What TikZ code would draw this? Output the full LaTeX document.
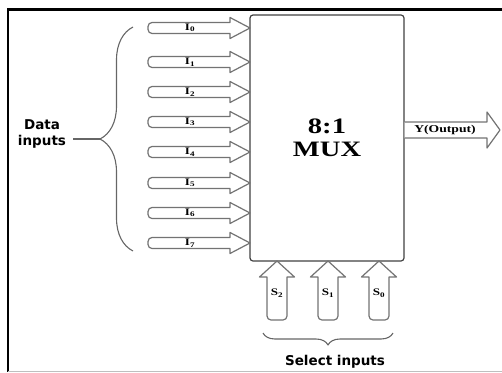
\documentclass[tikz,border=0pt]{standalone}
\usepackage{fontspec}
\setmainfont{Liberation Serif}[FakeStretch=1.3]
\newfontfamily\groupfont{DejaVu Sans}
\usetikzlibrary{decorations.pathreplacing,positioning}

\begin{document}
\begin{tikzpicture}[x=1pt, y=-1pt, line join=round,
    blockarrow/.style={draw=black!55, line width=1.2pt, fill=white},
    muxbox/.style={draw=black!75, line width=1.2pt, rounded corners=3pt,
      minimum width=154pt, minimum height=246pt, align=center,
      font=\fontsize{22}{25}\selectfont\bfseries},
    pinlabel/.style={inner sep=0pt, font=\fontsize{10}{11}\selectfont\bfseries},
    grouplabel/.style={align=center, inner sep=1pt,
      font=\groupfont\fontsize{13.5}{16}\selectfont\bfseries},
    bracket/.style={draw=black!60, line width=1.1pt, decorate}]
  \useasboundingbox (0,0) rectangle (502,372);
  % frame
  \draw[line width=3pt] (7,9) -- (502,9);
  \draw[line width=2.4pt] (8,8) -- (8,372);
  \draw[black!25, line width=1pt] (8,371) -- (502,371);

  \node[muxbox] (mux) at (327,138) {8:1\\[-2pt]MUX};

  % data inputs
  \foreach \i/\y in {0/28,1/62,2/92,3/122,4/152,5/183,6/213,7/243} {
    \draw[blockarrow] (190,\y-5.5) -- (230,\y-5.5) -- (230,\y-10.5) -- (250,\y)
      -- (230,\y+10.5) -- (230,\y+5.5) [rounded corners=4pt] -- (148,\y+5.5)
      -- (148,\y-5.5) -- cycle;
    \node[pinlabel] (d\i) at (190,\y) {I\textsubscript{\i}};
  }
  \draw[bracket, decoration={brace, amplitude=33pt}] (133,251) -- (133,27);
  \coordinate (dtip) at (100,139);
  \node[grouplabel] (dgroup) at (42,134) {Data\\inputs};
  \draw[black!60, line width=1.1pt] (dgroup.east |- dtip) ++(6,0) -- (dtip);

  % output
  \draw[blockarrow] (mux.east |- 0,122) -- (487,122) -- (487,112) -- (500,130)
    -- (487,148) -- (487,138) -- (mux.east |- 0,138);
  \node[pinlabel, font=\fontsize{10.5}{12}\selectfont\bfseries] (yout) at (445,130) {Y(Output)};

  % select inputs
  \foreach \i/\x in {2/277,1/328,0/379} {
    \draw[blockarrow] (\x-10,290) -- (\x-10,277) -- (\x-17.5,277) -- (\x,261)
      -- (\x+17.5,277) -- (\x+10,277) [rounded corners=4pt] -- (\x+10,320)
      -- (\x-10,320) -- cycle;
    \node[pinlabel] (s\i) at (\x,293) {S\textsubscript{\i}};
  }
  \draw[bracket, decoration={brace, amplitude=12pt}] (393,333) -- (263,333);
  \node[grouplabel] (sgroup) at (335,362) {Select inputs};
\end{tikzpicture}
\end{document}
